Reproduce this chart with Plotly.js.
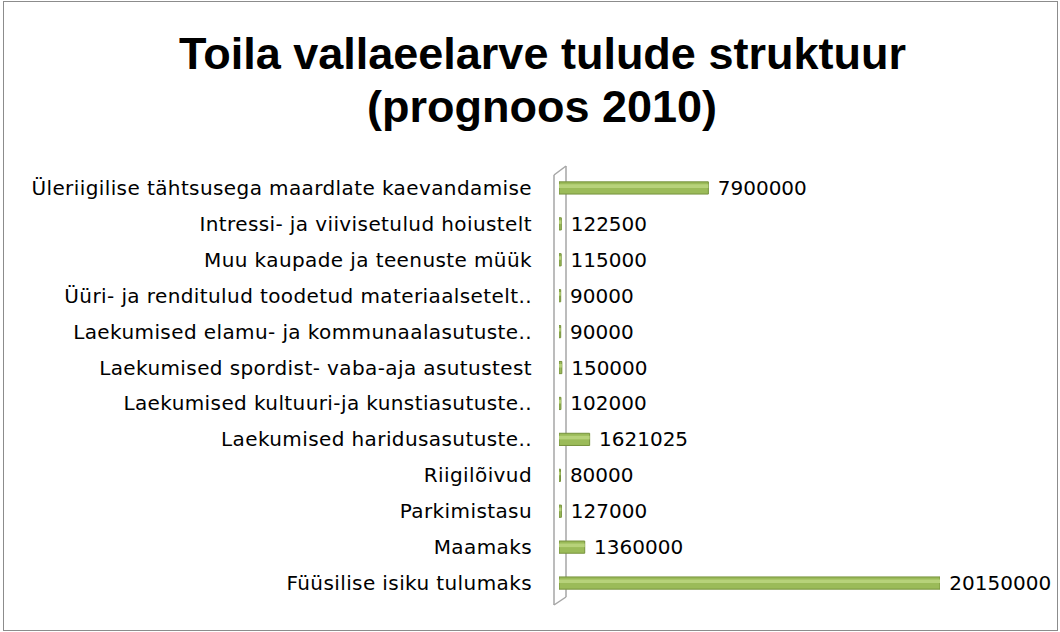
<!DOCTYPE html>
<html><head><meta charset="utf-8">
<script src="https://cdn.plot.ly/plotly-3.0.1.min.js"></script>
<style>
html,body{margin:0;padding:0;background:#fff;}
#wrap{position:relative;width:1060px;height:632px;}
#chart{position:absolute;left:0;top:0;width:1060px;height:632px;}
#frame{position:absolute;left:3px;top:1px;width:1053px;height:628px;border:1px solid #8c8c8c;pointer-events:none;}
.ytick text{letter-spacing:0.4px;}
</style>
</head><body>
<div id="wrap"><div id="chart"></div><div id="frame"></div></div>
<script>
const categories = [
  "Füüsilise isiku tulumaks",
  "Maamaks",
  "Parkimistasu",
  "Riigilõivud",
  "Laekumised haridusasutuste..",
  "Laekumised kultuuri-ja kunstiasutuste..",
  "Laekumised spordist- vaba-aja asutustest",
  "Laekumised elamu- ja kommunaalasutuste..",
  "Üüri- ja renditulud toodetud materiaalsetelt..",
  "Muu kaupade ja teenuste müük",
  "Intressi- ja viivisetulud hoiustelt",
  "Üleriigilise tähtsusega maardlate kaevandamise"
];
const values = [20150000, 1360000, 127000, 80000, 1621025, 102000, 150000, 90000, 90000, 115000, 122500, 7900000];
const valueLabels = values.map(v => String(v));
const titleLines = ["Toila vallaeelarve tulude struktuur", "(prognoos 2010)"];

const W = 1060, H = 632;
const mL = 559, mR = 120, mT = 170, mB = 31;
const pw = W - mL - mR, ph = H - mT - mB;
const px = x => (x - mL) / pw;
const py = y => (H - mB - y) / ph;

const wallColor = "#a6a6a6";
const wall = [
  [554,175,554,605],
  [566,166,566,597],
  [554,175,566,166],
  [554,605,566,597]
].map(s => ({type:"line", xref:"paper", yref:"paper",
  x0:px(s[0]), y0:py(s[1]), x1:px(s[2]), y1:py(s[3]),
  line:{color:wallColor, width:1.5}, layer:"below"}));

const titleFont = {family:"Liberation Sans, Arial, sans-serif", size:45, color:"#000", weight:"bold"};
const titleY = [53, 106];
const titleAnn = titleLines.map((t, i) => ({
  text:t, xref:"paper", yref:"paper", x:px(542), y:py(titleY[i]),
  xanchor:"center", yanchor:"middle", showarrow:false, font:titleFont
}));

const traces = [
  {type:"bar", orientation:"h", y:categories, x:values,
   width:0.34, marker:{color:"#9bbb59", line:{color:"#76923c", width:1}},
   text:valueLabels, texttemplate:"\u00a0%{text}", textposition:"outside", cliponaxis:false, constraintext:"none",
   textfont:{family:"DejaVu Sans, Verdana, sans-serif", size:20, color:"#000"},
   hoverinfo:"x+y"},
  {type:"bar", orientation:"h", y:categories, x:values,
   width:0.1, offset:0.0, marker:{color:"#b7d27a", line:{width:0}},
   hoverinfo:"skip"}
];

const layout = {
  width:W, height:H,
  margin:{l:mL, r:mR, t:mT, b:mB},
  paper_bgcolor:"#fff", plot_bgcolor:"rgba(0,0,0,0)",
  showlegend:false, barmode:"overlay",
  xaxis:{range:[0,20150000], visible:false, fixedrange:true},
  yaxis:{type:"category", categoryorder:"array", categoryarray:categories,
         showgrid:false, zeroline:false, showline:false, ticks:"",
         ticklabelstandoff:26,
         tickfont:{family:"DejaVu Sans, Verdana, sans-serif", size:20, color:"#000"}},
  shapes:wall,
  annotations:titleAnn
};
Plotly.newPlot("chart", traces, layout, {displayModeBar:false, staticPlot:true});
</script>
</body></html>
